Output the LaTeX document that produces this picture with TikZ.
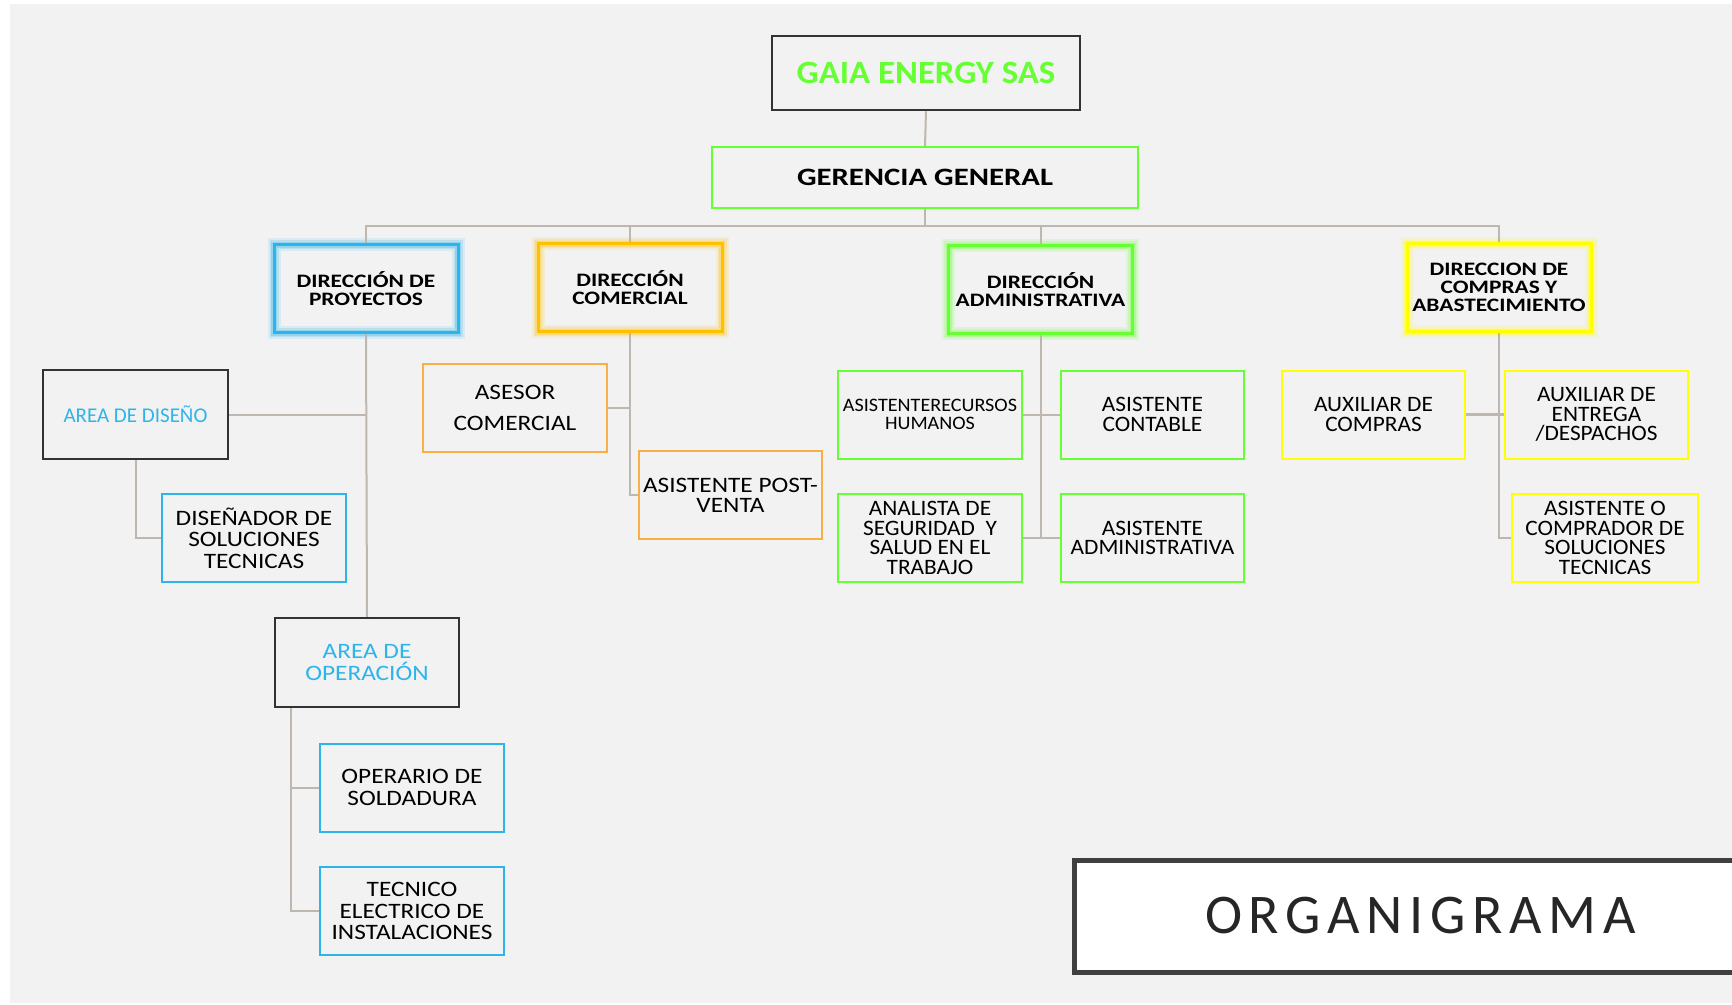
\documentclass[tikz,border=0pt]{standalone}
\usepackage{fontspec}
\setmainfont{Carlito}
\newfontfamily\fL[FakeStretch=1.15]{Carlito}
\newfontfamily\fR[FakeStretch=1.06]{Carlito}
\newfontfamily\fB[FakeStretch=1.23]{Carlito}
\newfontfamily\fG[FakeStretch=1.07]{Carlito}
\newfontfamily\fO[LetterSpace=12]{Carlito}
\definecolor{bgc}{HTML}{F2F2F2}
\definecolor{lnc}{HTML}{BDB7AF}
\definecolor{gaiag}{HTML}{66FF33}
\definecolor{bluec}{HTML}{2DB4EB}
\definecolor{goldc}{HTML}{FFC000}
\definecolor{orc}{HTML}{FAAF46}
\definecolor{yelc}{HTML}{FFFF00}
\definecolor{darkc}{HTML}{333333}
\definecolor{orgc}{HTML}{404040}
\tikzset{
  box/.style={draw=#1, line width=2, minimum width=184, minimum height=88, inner sep=0, align=center},
  dirbox/.style={box=#1, line width=3,
    preaction={draw=#1, draw opacity=.12, line width=13},
    preaction={draw=#1, draw opacity=.18, line width=9},
    preaction={draw=#1, draw opacity=.25, line width=6}},
  blkbox/.style={box=darkc, line width=2.5},
  ftL/.style={font=\fL\fontsize{22}{21.5}\selectfont},
  ftR/.style={font=\fR\fontsize{22}{19.5}\selectfont},
  ftB/.style={font=\fB\bfseries\fontsize{19}{17.7}\selectfont},
  conn/.style={draw=lnc, line width=2}
}
\begin{document}
\begin{tikzpicture}[x=1pt, y=-1pt]
\useasboundingbox (0,0) rectangle (1732,1004);
\clip (0,0) rectangle (1732,1004);
\fill[white] (0,0) rectangle (1732,1004);
\fill[bgc] (10,4) rectangle (1732,1003);

% top
\node[blkbox, minimum width=308, minimum height=74, font=\fG\bfseries\fontsize{32.5}{32}\selectfont, text=gaiag] (gaia) at (926,73) {GAIA ENERGY SAS};
\node[box=gaiag, minimum width=426, minimum height=61, font=\fB\bfseries\fontsize{25}{25}\selectfont] (ger) at (925,177.5) {GERENCIA GENERAL};

% directors
\node[dirbox=bluec, ftB] (dproy) at (366,288.5) {DIRECCIÓN DE\\PROYECTOS};
\node[dirbox=goldc, ftB] (dcom) at (630,287.5) {DIRECCIÓN\\COMERCIAL};
\node[dirbox=gaiag, ftB] (dadm) at (1040.5,289.5) {DIRECCIÓN\\ADMINISTRATIVA};
\node[dirbox=yelc, ftB] (dcomp) at (1499,287.5) {DIRECCION DE\\COMPRAS Y\\ABASTECIMIENTO};

% proyectos
\node[blkbox, minimum width=185, minimum height=89, font=\fontsize{21}{21}\selectfont, text=bluec] (adis) at (135.5,414.5) {AREA DE DISEÑO};
\node[box=bluec, ftL] (dis) at (254,538) {DISEÑADOR DE\\SOLUCIONES\\TECNICAS};
\node[blkbox, minimum height=89, ftL, text=bluec] (aop) at (367,662.5) {AREA DE\\OPERACIÓN};
\node[box=bluec, ftL] (sold) at (412,787.5) {OPERARIO DE\\SOLDADURA};
\node[box=bluec, ftL] (tec) at (412,911) {TECNICO\\ELECTRICO DE\\INSTALACIONES};

% comercial
\node[box=orc, ftL, font=\fL\fontsize{22}{31}\selectfont] (ases) at (515,407.5) {ASESOR\\COMERCIAL};
\node[box=orc, ftL, font=\fL\fontsize{22}{20}\selectfont, minimum width=183] (post) at (730.5,495) {ASISTENTE POST-\\VENTA};

% administrativa
\node[box=gaiag, font=\fR\fontsize{19}{18}\selectfont] (rrhh) at (930,414.5) {ASISTENTERECURSOS\\HUMANOS};
\node[box=gaiag, ftR, minimum width=183] (cont) at (1152.5,414.5) {ASISTENTE\\CONTABLE};
\node[box=gaiag, ftR] (anal) at (930,538) {ANALISTA DE\\SEGURIDAD~ Y\\SALUD EN EL\\TRABAJO};
\node[box=gaiag, ftR, minimum width=183] (asad) at (1152.5,538) {ASISTENTE\\ADMINISTRATIVA};

% compras
\node[box=yelc, ftR, minimum width=183] (auxc) at (1373.5,414.5) {AUXILIAR DE\\COMPRAS};
\node[box=yelc, ftR, minimum width=183] (auxe) at (1596.5,414.5) {AUXILIAR DE\\ENTREGA\\/DESPACHOS};
\node[box=yelc, ftR, minimum width=186] (asco) at (1605,538) {ASISTENTE O\\COMPRADOR DE\\SOLUCIONES\\TECNICAS};

% title
\node[draw=orgc, line width=5, fill=white, minimum width=693, minimum height=112, inner sep=0, font=\fO\fontsize{56}{56}\selectfont, text=black!85] (org) at (1420.5,916) {ORGANIGRAMA};

% connectors
\draw[conn] (gaia.south) -- (ger.north);
\draw[conn] (ger.south) -- ++(0,17) -| (dproy.north);
\draw[conn] (ger.south) -- ++(0,17) -| (dcom.north);
\draw[conn] (ger.south) -- ++(0,17) -| (dadm.north);
\draw[conn] (ger.south) -- ++(0,17) -| (dcomp.north);

\draw[conn] (dproy.south) -- (aop.north);
\draw[conn] (adis.east) -- (adis.east -| dproy.south);
\draw[conn] (adis.south) |- (dis.west);
\draw[conn] ([xshift=17]aop.south west) |- (sold.west);
\draw[conn] ([xshift=17]aop.south west) |- (tec.west);

\draw[conn] (dcom.south) |- (post.west);
\draw[conn] (ases.east) -- (ases.east -| dcom.south);

\draw[conn] (dadm.south) -- (dadm.south |- anal.east);
\draw[conn] (rrhh.east) -- (cont.west);
\draw[conn] (anal.east) -- (asad.west);

\draw[conn] (dcomp.south) |- (asco.west);
\draw[conn, line width=3] (auxc.east) -- (auxe.west);
\end{tikzpicture}
\end{document}
